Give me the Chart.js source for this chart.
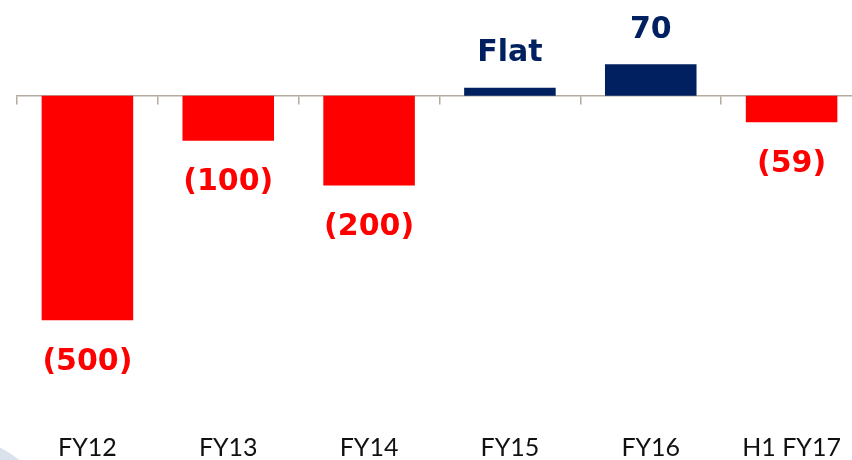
<!DOCTYPE html>
<html>
<head>
<meta charset="utf-8">
<script src="https://cdn.jsdelivr.net/npm/chart.js@4"></script>
<style>
html, body { margin:0; padding:0; background:#fff; overflow:hidden; }
#wrap { position:relative; width:852px; height:460px; overflow:hidden; }
#deco { position:absolute; left:-222px; top:429px; width:300px; height:300px; border-radius:50%;
        background:radial-gradient(circle at 75% 15%, #dde4ee, #aab8cc); }
#box { position:absolute; left:0; top:0; }
</style>
</head>
<body>
<div id="wrap">
  <div id="deco"></div>
  <canvas id="box" width="872" height="460"></canvas>
</div>
<script>
const categories = ['FY12', 'FY13', 'FY14', 'FY15', 'FY16', 'H1 FY17'];
const values = [-500, -100, -200, 18, 70, -59];
const valueLabels = ['(500)', '(100)', '(200)', 'Flat', '70', '(59)'];

const red = '#ff0000';
const navy = '#002060';
const barColors = values.map(v => v < 0 ? red : navy);

// text above / below each bar
const barLabels = {
    id: 'barLabels',
    afterDatasetsDraw(chart) {
        const ctx = chart.ctx;
        const meta = chart.getDatasetMeta(0);
        ctx.save();
        ctx.font = 'bold 30px "DejaVu Sans"';
        ctx.textAlign = 'center';
        ctx.textBaseline = 'middle';
        meta.data.forEach((bar, i) => {
            ctx.fillStyle = barColors[i];
            const y = values[i] < 0 ? bar.y + 42 : bar.y - 34;
            ctx.fillText(valueLabels[i], bar.x, y);
        });
        ctx.restore();
    }
};

new Chart(document.getElementById('box'), {
    type: 'bar',
    data: {
        labels: categories,
        datasets: [{
            data: values,
            backgroundColor: barColors,
            borderWidth: 0,
            categoryPercentage: 1,
            barPercentage: 0.65
        }]
    },
    plugins: [barLabels],
    options: {
        responsive: false,
        animation: false,
        layout: { padding: { left: 17, right: 10, top: 6, bottom: 0 } },
        plugins: {
            legend: { display: false },
            tooltip: { enabled: false }
        },
        scales: {
            x: {
                grid: { display: false },
                border: { display: false },
                afterFit(scale) { scale.height = 50; },
                ticks: {
                    color: '#111111',
                    padding: 15,
                    font: { family: 'Lato', size: 25 }
                }
            },
            zero: {
                axis: 'x',
                type: 'category',
                position: { y: 0 },
                offset: true,
                afterFit(scale) { scale.height = 0; },
                grid: {
                    offset: true,
                    drawOnChartArea: false,
                    tickLength: 8,
                    color: '#b4aa9e',
                    lineWidth: 1.5
                },
                border: { color: '#b4aa9e', width: 1.5 },
                ticks: { display: false }
            },
            y: {
                display: false,
                min: -700,
                max: 200
            }
        }
    }
});
</script>
</body>
</html>
